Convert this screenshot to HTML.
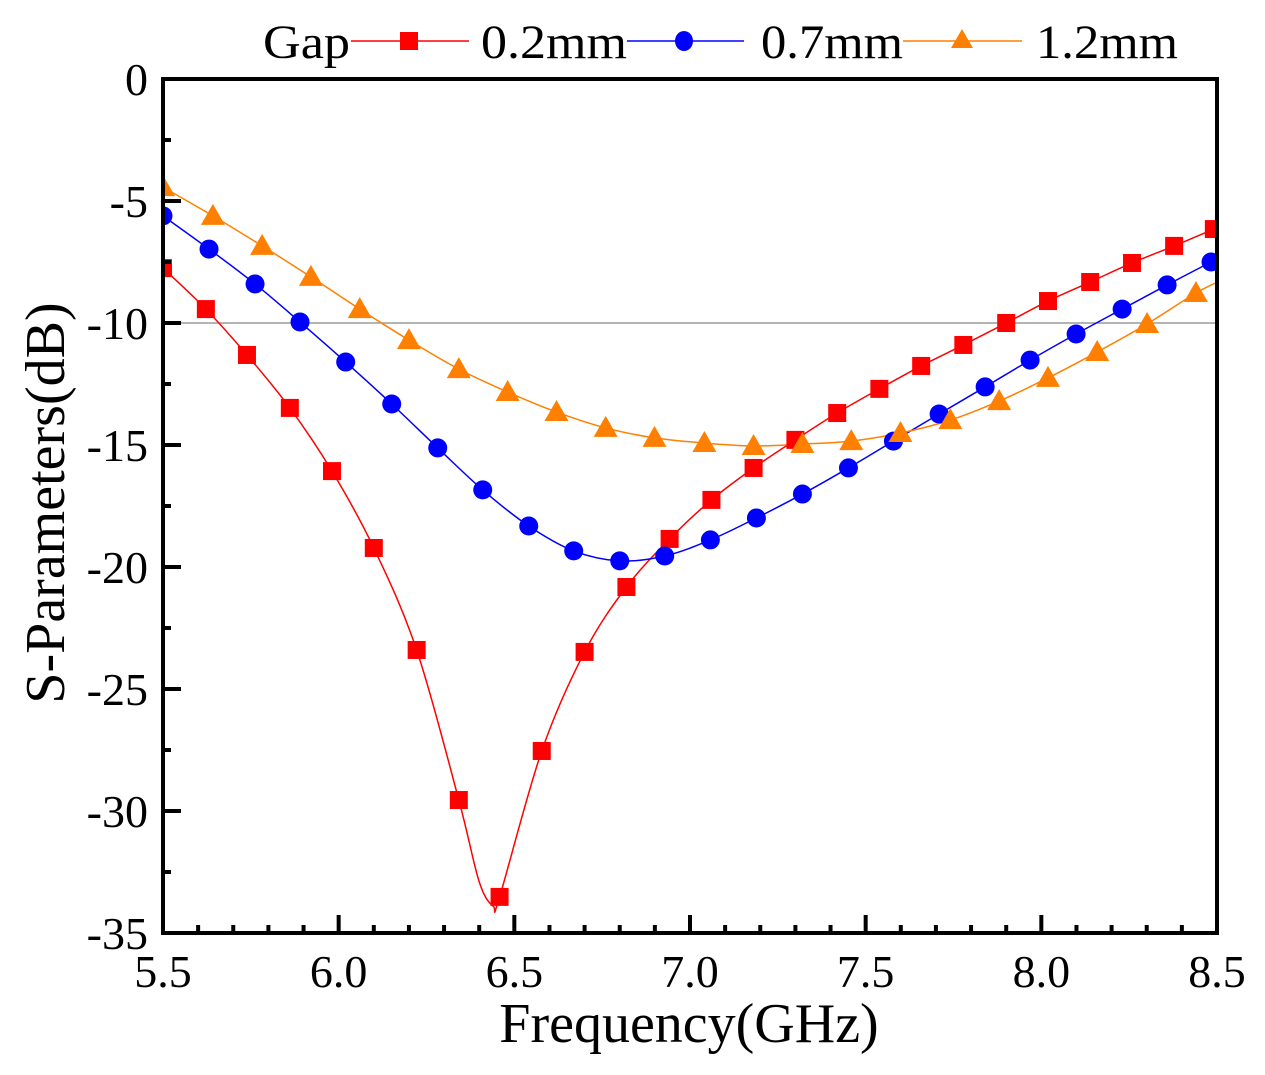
<!DOCTYPE html>
<html><head><meta charset="utf-8"><style>
html,body{margin:0;padding:0;background:#fff;}
svg{display:block;font-family:"Liberation Serif",serif;}
</style></head><body>
<svg id="chart" width="1265" height="1075" viewBox="0 0 1265 1075">
<defs><clipPath id="pc"><rect x="163" y="79" width="1054" height="854"/></clipPath></defs>
<g id="plot" clip-path="url(#pc)"></g>
<g id="axes"></g>
<g id="legend">
<text x="263" y="58" font-size="48" textLength="87" lengthAdjust="spacingAndGlyphs">Gap</text>
<line x1="351" y1="41" x2="469" y2="41" stroke="#f00" stroke-width="1.5"/>
<rect x="400" y="32" width="18" height="18" fill="#f00"/>
<text x="481" y="58" font-size="48" textLength="146" lengthAdjust="spacingAndGlyphs">0.2mm</text>
<line x1="627" y1="41" x2="744" y2="41" stroke="#00f" stroke-width="1.5"/>
<ellipse cx="684" cy="41" rx="9" ry="10" fill="#00f"/>
<text x="761" y="58" font-size="48" textLength="142" lengthAdjust="spacingAndGlyphs">0.7mm</text>
<line x1="903" y1="41" x2="1022" y2="41" stroke="#ff8000" stroke-width="1.5"/>
<polygon points="962,29 973,48 951,48" fill="#ff8000"/>
<text x="1036" y="58" font-size="48" textLength="142" lengthAdjust="spacingAndGlyphs">1.2mm</text>
</g>
<text x="689" y="1042" font-size="56" text-anchor="middle">Frequency(GHz)</text>
<text transform="translate(64,503) rotate(-90)" font-size="56" text-anchor="middle">S-Parameters(dB)</text>
</svg>
<script>
const xTicks = [5.5, 6.0, 6.5, 7.0, 7.5, 8.0, 8.5];
const xTickLabels = ["5.5","6.0","6.5","7.0","7.5","8.0","8.5"];
const yTicks = [0, -5, -10, -15, -20, -25, -30, -35];
const yTickLabels = ["0","-5","-10","-15","-20","-25","-30","-35"];
const refLevel = -10;

const freqA = [5.5,5.622,5.739,5.861,5.981,6.100,6.222,6.342,6.458,6.578,6.700,6.819,6.942,7.061,7.181,7.300,7.419,7.539,7.658,7.778,7.900,8.019,8.139,8.258,8.378,8.491];
const valsA = [-7.75,-9.43,-11.31,-13.48,-16.07,-19.22,-23.40,-29.55,-33.52,-27.54,-23.48,-20.82,-18.85,-17.25,-15.94,-14.79,-13.69,-12.70,-11.76,-10.90,-10.00,-9.10,-8.32,-7.54,-6.84,-6.15];
const lineFreqA = [5.5,5.622,5.739,5.861,5.981,6.100,6.222,6.342,6.40,6.44,6.458,6.578,6.700,6.819,6.942,7.061,7.181,7.300,7.419,7.539,7.658,7.778,7.900,8.019,8.139,8.258,8.378,8.491,8.52];
const lineValsA = [-7.75,-9.43,-11.31,-13.48,-16.07,-19.22,-23.40,-29.55,-32.9,-33.9,-33.52,-27.54,-23.48,-20.82,-18.85,-17.25,-15.94,-14.79,-13.69,-12.70,-11.76,-10.90,-10.00,-9.10,-8.32,-7.54,-6.84,-6.15,-6.0];

const freqB = [5.5,5.631,5.762,5.890,6.020,6.151,6.282,6.410,6.541,6.669,6.800,6.928,7.058,7.189,7.320,7.451,7.579,7.709,7.840,7.968,8.099,8.230,8.358,8.483];
const valsB = [-5.61,-6.97,-8.40,-9.96,-11.60,-13.32,-15.12,-16.84,-18.32,-19.34,-19.75,-19.55,-18.89,-17.99,-17.01,-15.94,-14.84,-13.73,-12.62,-11.52,-10.45,-9.43,-8.44,-7.50];

const freqC = [5.5,5.642,5.782,5.921,6.060,6.200,6.342,6.481,6.620,6.760,6.899,7.041,7.181,7.320,7.459,7.599,7.741,7.880,8.019,8.159,8.301,8.440];
const valsC = [-4.43,-5.61,-6.84,-8.11,-9.43,-10.70,-11.89,-12.83,-13.65,-14.30,-14.71,-14.92,-15.04,-14.96,-14.84,-14.51,-13.98,-13.20,-12.25,-11.19,-10.04,-8.77];
const lineFreqC = freqC.concat([8.52]);
const lineValsC = valsC.concat([-8.2]);

const X0=163, X1=1217, Y0=79, Y1=933;
const xs = f => X0 + (f-5.5)/3*(X1-X0);
const ys = v => Y0 + (0-v)/35*(Y1-Y0);
const NS='http://www.w3.org/2000/svg';
const plot=document.getElementById('plot'), axes=document.getElementById('axes');
function mk(tag, attrs, parent){const e=document.createElementNS(NS,tag);for(const k in attrs)e.setAttribute(k,attrs[k]);parent.appendChild(e);return e;}

const ref = mk('line',{x1:X0,x2:X1,y1:ys(refLevel),y2:ys(refLevel),stroke:'#888','stroke-width':1.2},plot);



function spline(fx, vy){
  const p=fx.map((f,i)=>[xs(f),ys(vy[i])]);
  let d=`M${p[0][0]},${p[0][1]}`;
  for(let i=0;i<p.length-1;i++){
    const a=p[i-1]||p[i], b=p[i], c=p[i+1], e=p[i+2]||c;
    d+=` C${b[0]+(c[0]-a[0])/6},${b[1]+(c[1]-a[1])/6} ${c[0]-(e[0]-b[0])/6},${c[1]-(e[1]-b[1])/6} ${c[0]},${c[1]}`;
  }
  return d;
}
const series=[
 {lf:lineFreqA,lv:lineValsA,f:freqA,v:valsA,c:'#f00',m:'sq',n:'0.2mm'},
 {lf:freqB,lv:valsB,f:freqB,v:valsB,c:'#00f',m:'ci',n:'0.7mm'},
 {lf:lineFreqC,lv:lineValsC,f:freqC,v:valsC,c:'#ff8000',m:'tr',n:'1.2mm'}
];
series.forEach(s=>{
  const ln=mk('path',{d:spline(s.lf,s.lv),fill:'none',stroke:s.c,'stroke-width':1.5},plot);
  
  
});
series.forEach(s=>{
  s.f.forEach((f,i)=>{
    const x=xs(f), y=ys(s.v[i]); let e;
    if(s.m==='sq') e=mk('rect',{x:x-9,y:y-9,width:18,height:18,fill:s.c},plot);
    else if(s.m==='ci') e=mk('circle',{cx:x,cy:y,r:9.5,fill:s.c},plot);
    else e=mk('polygon',{points:`${x},${y-12} ${x+12},${y+9} ${x-12},${y+9}`,fill:s.c},plot);
    
    
  });
});

const fr=mk('rect',{x:X0,y:Y0,width:X1-X0,height:Y1-Y0,fill:'none',stroke:'#000','stroke-width':4},axes);


for(let k=0;k<=30;k++){
  const f=5.5+k*0.1, x=xs(f), major=k%5===0;
  const t=mk('line',{x1:x,x2:x,y1:Y1,y2:Y1-(major?18:8),stroke:'#000','stroke-width':4},axes);
  
  
}
xTicks.forEach((f,i)=>{
  const t=mk('text',{x:xs(f),y:987,'font-size':46,'text-anchor':'middle'},axes);
  t.textContent=xTickLabels[i];
  
  
});
for(let k=0;k<=14;k++){
  const v=-k*2.5, y=ys(v), major=k%2===0;
  const t=mk('line',{x1:X0,x2:X0+(major?18:8),y1:y,y2:y,stroke:'#000','stroke-width':4},axes);
  
  
}
yTicks.forEach((v,i)=>{
  const t=mk('text',{x:148,y:ys(v)+16,'font-size':46,'text-anchor':'end'},axes);
  t.textContent=yTickLabels[i];
  
  
});
</script>
</body></html>
